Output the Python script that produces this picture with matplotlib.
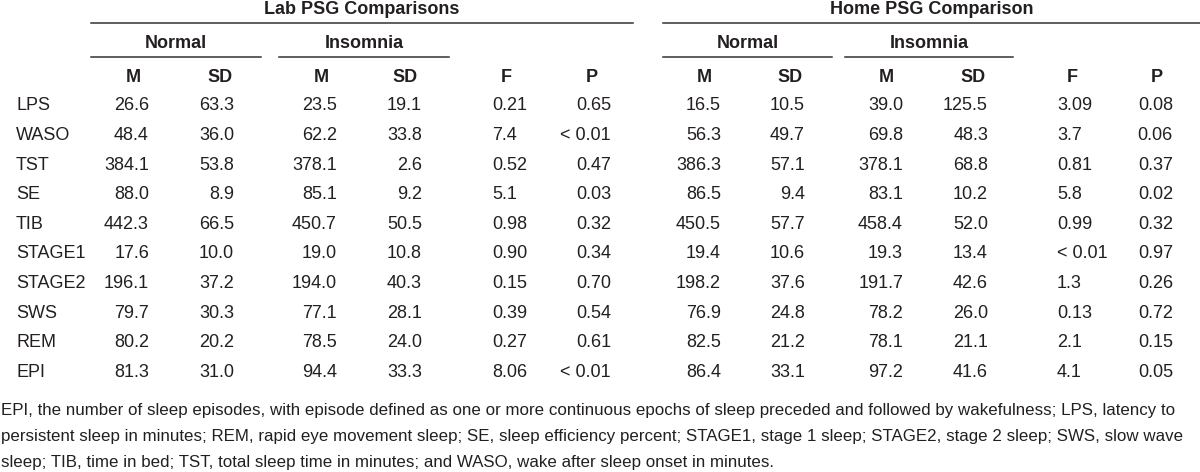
import matplotlib
matplotlib.use("Agg")
import matplotlib.pyplot as plt

# table values
rows = ['LPS', 'WASO', 'TST', 'SE', 'TIB', 'STAGE1', 'STAGE2', 'SWS', 'REM', 'EPI']

lab_normal_m = ['26.6', '48.4', '384.1', '88.0', '442.3', '17.6', '196.1', '79.7', '80.2', '81.3']
lab_normal_sd = ['63.3', '36.0', '53.8', '8.9', '66.5', '10.0', '37.2', '30.3', '20.2', '31.0']
lab_ins_m = ['23.5', '62.2', '378.1', '85.1', '450.7', '19.0', '194.0', '77.1', '78.5', '94.4']
lab_ins_sd = ['19.1', '33.8', '2.6', '9.2', '50.5', '10.8', '40.3', '28.1', '24.0', '33.3']
lab_f = ['0.21', '7.4', '0.52', '5.1', '0.98', '0.90', '0.15', '0.39', '0.27', '8.06']
lab_p = ['0.65', '< 0.01', '0.47', '0.03', '0.32', '0.34', '0.70', '0.54', '0.61', '< 0.01']

home_normal_m = ['16.5', '56.3', '386.3', '86.5', '450.5', '19.4', '198.2', '76.9', '82.5', '86.4']
home_normal_sd = ['10.5', '49.7', '57.1', '9.4', '57.7', '10.6', '37.6', '24.8', '21.2', '33.1']
home_ins_m = ['39.0', '69.8', '378.1', '83.1', '458.4', '19.3', '191.7', '78.2', '78.1', '97.2']
home_ins_sd = ['125.5', '48.3', '68.8', '10.2', '52.0', '13.4', '42.6', '26.0', '21.1', '41.6']
home_f = ['3.09', '3.7', '0.81', '5.8', '0.99', '< 0.01', '1.3', '0.13', '2.1', '4.1']
home_p = ['0.08', '0.06', '0.37', '0.02', '0.32', '0.97', '0.26', '0.72', '0.15', '0.05']

footnote = [
    "EPI, the number of sleep episodes, with episode defined as one or more continuous epochs of sleep preceded and followed by wakefulness; LPS, latency to",
    "persistent sleep in minutes; REM, rapid eye movement sleep; SE, sleep efficiency percent; STAGE1, stage 1 sleep; STAGE2, stage 2 sleep; SWS, slow wave",
    "sleep; TIB, time in bed; TST, total sleep time in minutes; and WASO, wake after sleep onset in minutes.",
]

plt.rcParams['font.family'] = ['Liberation Sans', 'DejaVu Sans']
txt = '#231f20'
fs = 13

fig = plt.figure(figsize=(12, 4.72), dpi=100)
ax = fig.add_axes([0, 0, 1, 1])
ax.set_xlim(0, 1200)
ax.set_ylim(472, 0)
ax.axis('off')

# group headers and rules
groups = [("Lab PSG Comparisons", 91, 633), ("Home PSG Comparison", 663, 1200)]
for label, x0, x1 in groups:
    ax.text((x0 + x1) / 2, 10, label, ha='center', va='center', fontsize=fs, weight='bold', color=txt)
    ax.plot([x0, x1], [23, 23], color='#333333', lw=1.1)

subgroups = [("Normal", 91, 261), ("Insomnia", 279, 449), ("Normal", 663, 832), ("Insomnia", 845, 1013)]
for label, x0, x1 in subgroups:
    ax.text((x0 + x1) / 2, 43, label, ha='center', va='center', fontsize=fs, weight='bold', color=txt)
    ax.plot([x0, x1], [57, 57], color='#333333', lw=1.1)

# columns: header, header centre, data anchor, alignment
columns = [
    ('M', 133, 149, 'right', lab_normal_m),
    ('SD', 220, 234, 'right', lab_normal_sd),
    ('M', 321, 337, 'right', lab_ins_m),
    ('SD', 405, 422, 'right', lab_ins_sd),
    ('F', 506, 492, 'left', lab_f),
    ('P', 592, 611, 'right', lab_p),
    ('M', 704, 721, 'right', home_normal_m),
    ('SD', 790, 805, 'right', home_normal_sd),
    ('M', 886, 903, 'right', home_ins_m),
    ('SD', 973, 988, 'right', home_ins_sd),
    ('F', 1072, 1057, 'left', home_f),
    ('P', 1157, 1173, 'right', home_p),
]

row_y0 = 106
row_step = 29.6
for head, hx, dx, align, vals in columns:
    ax.text(hx, 77, head, ha='center', va='center', fontsize=fs, weight='bold', color=txt)
    for i, v in enumerate(vals):
        ax.text(dx, row_y0 + i * row_step, v, ha=align, va='center', fontsize=fs, color=txt)

for i, r in enumerate(rows):
    ax.text(16, row_y0 + i * row_step, r, ha='left', va='center', fontsize=fs, color=txt)

for i, line in enumerate(footnote):
    ax.text(1, 411 + i * 25.5, line, ha='left', va='center', fontsize=12.2, color=txt)

fig.savefig('out.png', dpi=100, facecolor='white')
